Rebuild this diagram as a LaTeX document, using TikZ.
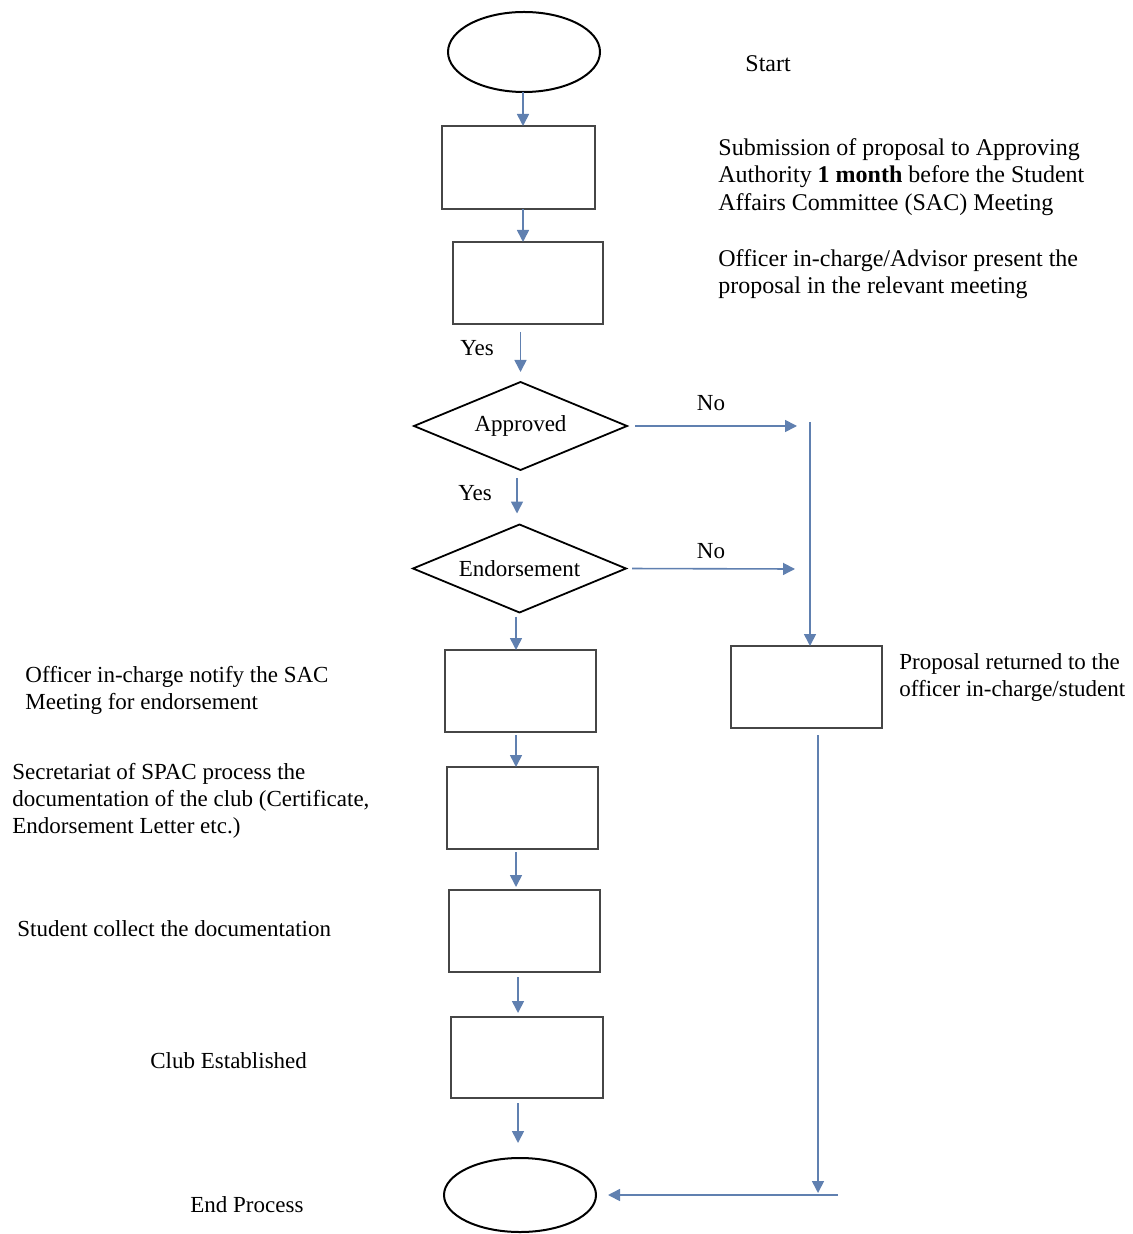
\documentclass[tikz,border=0pt]{standalone}
\usepackage{fontspec}
\setmainfont{Liberation Serif}
\usetikzlibrary{shapes.geometric,arrows.meta}
\definecolor{flowblue}{RGB}{96,128,176}
\definecolor{boxgray}{RGB}{70,70,70}
\begin{document}
\begin{tikzpicture}[x=0.5pt,y=-0.5pt,
  stepbox/.style={draw=boxgray,line width=1.3pt,rectangle,inner sep=0pt,outer sep=0pt},
  terminal/.style={draw=black,line width=1pt,ellipse,inner sep=0pt,outer sep=0pt,
    minimum width=76pt},
  decision/.style={draw=black,line width=0.9pt,diamond,shape aspect=2.4,inner sep=0pt,outer sep=0pt,
    minimum width=106.5pt,minimum height=44pt,font=\fontsize{11.5}{13}\selectfont},
  arr/.style={draw=flowblue,line width=0.8pt,-{Triangle[width=6pt,length=6pt]}},
  note/.style={anchor=north west,align=left,inner sep=0pt,
    font=\fontsize{12}{13.75}\selectfont},
  side/.style={anchor=north west,align=left,inner sep=0pt,
    font=\fontsize{11.5}{13.4}\selectfont},
  tag/.style={inner sep=0pt,font=\fontsize{11.5}{13}\selectfont}]
\useasboundingbox (0,0) rectangle (1132,1234);

% process column
\node[terminal,minimum height=40pt] (start) at (524,52) {};
\node[stepbox,minimum width=76.5pt,minimum height=41.5pt] (b1) at (518.5,167.5) {};
\node[stepbox,minimum width=75pt,minimum height=41pt] (b2) at (528,283) {};
\node[decision] (ap) at (520.5,426) {\raisebox{2.5pt}{Approved}};
\node[decision] (en) at (519.5,568.5) {Endorsement};
\node[stepbox,minimum width=75.5pt,minimum height=41pt] (b3) at (520.5,691) {};
\node[stepbox,minimum width=75.5pt,minimum height=41pt] (b4) at (522.5,808) {};
\node[stepbox,minimum width=75.5pt,minimum height=41pt] (b5) at (524.5,931) {};
\node[stepbox,minimum width=76pt,minimum height=40.5pt] (b6) at (527,1057.5) {};
\node[terminal,minimum height=37pt] (end) at (520,1195) {};

% return branch
\node[stepbox,minimum width=75.5pt,minimum height=41pt] (pr) at (806.5,687) {};

% free ends of the return branch
\coordinate (apno) at (797,426);
\coordinate (enno) at (795,569);
\coordinate (vtop) at (810,422);
\coordinate (rb) at (818,1193);
\coordinate (hr) at (838,1195);

% main flow
\draw[arr] (start.south -| 523,0) -- (b1.north -| 523,0);
\draw[arr] (b1.south -| 523,0) -- (b2.north -| 523,0);
\draw[arr,shorten <=4pt,shorten >=5pt] (b2.south -| ap.north) -- (ap.north);
\draw[arr,shorten <=4pt,shorten >=5.5pt] (ap.south -| 517,0) -- (en.north -| 517,0);
\draw[arr,shorten <=2pt] (en.south -| 516,0) -- (b3.north -| 516,0);
\draw[arr,shorten <=1.5pt] (b3.south -| 516,0) -- (b4.north -| 516,0);
\draw[arr,shorten <=1.5pt,shorten >=1.5pt] (b4.south -| 516,0) -- (b5.north -| 516,0);
\draw[arr,shorten <=2.5pt,shorten >=2pt] (b5.south -| 518,0) -- (b6.north -| 518,0);
\draw[arr,shorten <=2.5pt,shorten >=7.5pt] (b6.south -| 518,0) -- (end.north -| 518,0);

% rejection flow
\draw[arr,shorten <=4pt] (ap.east) -- (apno);
\draw[arr,shorten <=3pt] (en.east) -- (enno);
\draw[arr] (vtop) -- (vtop |- pr.north);
\draw[arr,shorten <=3.5pt] (rb |- pr.south) -- (rb);
\draw[arr,shorten >=6pt] (hr) -- (end.east);

% branch labels
\node[tag] (yes1) at (477,348) {Yes};
\node[tag] (yes2) at (475,493) {Yes};
\node[tag] (no1) at (711,403) {No};
\node[tag] (no2) at (711,551) {No};

% descriptions
\node[note,anchor=west] (tstart) at (745,64) {Start};
\node[note] (t1) at (718,138) {Submission of proposal to Approving\\Authority \textbf{1 month} before the Student\\Affairs Committee (SAC) Meeting};
\node[note] (t2) at (718,249) {Officer in-charge/Advisor present the\\proposal in the relevant meeting};
\node[side] (tpr) at (899,653) {Proposal returned to the\\officer in-charge/student};
\node[side] (t3) at (25,666) {Officer in-charge notify the SAC\\Meeting for endorsement};
\node[side] (t4) at (12,763) {Secretariat of SPAC process the\\documentation of the club (Certificate,\\Endorsement Letter etc.)};
\node[side,anchor=west] (t5) at (17,929) {Student collect the documentation};
\node[side,anchor=west] (t6) at (150,1061) {Club Established};
\node[side,anchor=west] (t7) at (190,1205) {End Process};
\end{tikzpicture}
\end{document}
